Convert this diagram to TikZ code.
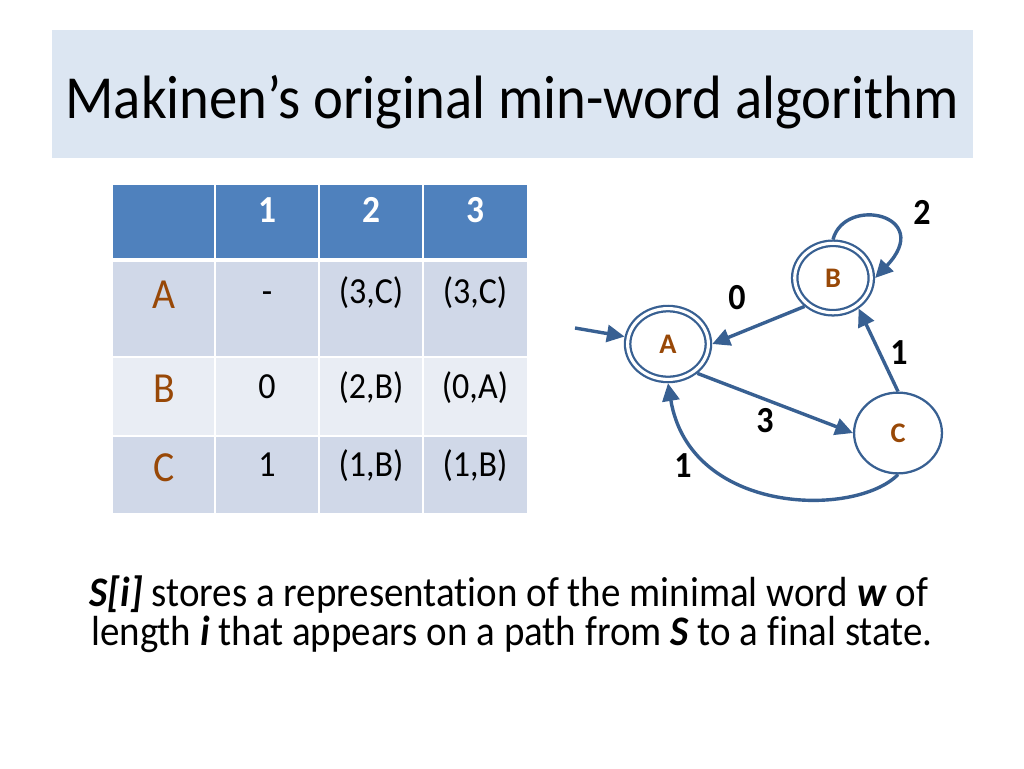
\documentclass[tikz,border=0pt]{standalone}
\usepackage{fontspec}
\setmainfont{Carlito}[Ligatures=NoCommon]
\usetikzlibrary{arrows.meta, shapes.geometric}

\definecolor{titlebg}{RGB}{220,230,242}
\definecolor{headblue}{RGB}{79,129,189}
\definecolor{rowdark}{RGB}{208,216,232}
\definecolor{rowlight}{RGB}{233,237,244}
\definecolor{statebrown}{RGB}{152,72,7}
\definecolor{edgeblue}{RGB}{56,96,146}

\newcommand{\bi}[1]{\textbf{\textit{#1}}}
\newcommand{\tall}[1]{\scalebox{1}[1.08]{#1}}

\begin{document}
\begin{tikzpicture}[x=0.248mm, y=-0.248mm,
  cell/.style={anchor=base, font=\fontsize{24}{28}\selectfont},
  headcell/.style={anchor=base, text=white, font=\fontsize{25}{28}\selectfont\bfseries},
  rowname/.style={anchor=base, text=statebrown, font=\fontsize{28}{32}\selectfont},
  statenode/.style={ellipse, draw=edgeblue, line width=1.6pt, text=statebrown,
    font=\fontsize{20}{22}\selectfont\bfseries, inner sep=0pt},
  acceptnode/.style={statenode, double, double distance=2.2pt, outer sep=2.7pt},
  edge/.style={draw=edgeblue, line width=2.4pt, -{Triangle[length=12.5pt, width=12pt]}},
  elabel/.style={font=\fontsize{24}{26}\selectfont\bfseries}]
  \useasboundingbox (0,0) rectangle (1024,768);

  % title
  \fill[titlebg] (52,30) rectangle (973,158);
  \node[anchor=base, font=\fontsize{40}{44}\selectfont] (title) at (512,118)
        {\tall{Makinen’s original min-word algorithm}};

  % table
  \fill[headblue] (113,185) rectangle (527,260);
  \fill[rowdark]  (113,260) rectangle (527,357);
  \fill[rowlight] (113,357) rectangle (527,436);
  \fill[rowdark]  (113,436) rectangle (527,513);
  \foreach \x in {215,319,423}{\draw[white, line width=2pt] (\x,185)--(\x,513);}
  \foreach \y in {357,436}{\draw[white, line width=2pt] (113,\y)--(527,\y);}
  \draw[white, line width=3pt] (113,260)--(527,260);

  \node[headcell] (h1) at (267,222) {\tall{1}};
  \node[headcell] (h2) at (371,222) {\tall{2}};
  \node[headcell] (h3) at (475,222) {\tall{3}};

  \node[rowname] (rA) at (164,308) {\tall{A}};
  \node[cell] (a1) at (267,303) {\tall{-}};
  \node[cell] (a2) at (371,303) {\tall{(3,C)}};
  \node[cell] (a3) at (475,303) {\tall{(3,C)}};

  \node[rowname] (rB) at (164,402) {\tall{B}};
  \node[cell] (b1) at (267,398) {\tall{0}};
  \node[cell] (b2) at (371,398) {\tall{(2,B)}};
  \node[cell] (b3) at (475,398) {\tall{(0,A)}};

  \node[rowname] (rC) at (164,481) {\tall{C}};
  \node[cell] (c1) at (267,476) {\tall{1}};
  \node[cell] (c2) at (371,476) {\tall{(1,B)}};
  \node[cell] (c3) at (475,476) {\tall{(1,B)}};

  % automaton
  \node[acceptnode, minimum width=57pt, minimum height=50pt] (A) at (668,344) {A};
  \node[acceptnode, minimum width=54pt, minimum height=49pt] (B) at (833,278) {B};
  \node[statenode, minimum width=62pt, minimum height=57pt] (C) at (898,433) {C};
  \coordinate (start) at (575,328);

  \draw[edge] (start) -- (A);
  \draw[edge] (B.225) -- (A.east);
  \draw[edge] (A.-45) -- (C.west);
  \draw[edge] (C.north) -- (B.-50);
  \draw[edge] (C.south) .. controls (855,518) and (690,515) .. (A.south);
  \draw[edge] (B.north) .. controls (845,195) and (935,215) .. (B.east);

  \node[elabel] (l0) at (737,298) {\tall{0}};
  \node[elabel] (l2) at (922,212) {\tall{2}};
  \node[elabel] (l3) at (765,421) {\tall{3}};
  \node[elabel] (lcb) at (899,353) {\tall{1}};
  \node[elabel] (lca) at (683,466) {\tall{1}};

  % caption
  \node[anchor=base, font=\fontsize{27.5}{32}\selectfont] (cap1) at (509,606)
        {\tall{\bi{S[i]} stores a representation of the minimal word \bi{w} of}};
  \node[anchor=base, font=\fontsize{27.5}{32}\selectfont] (cap2) at (512,645)
        {\tall{length \bi{i} that appears on a path from \bi{S} to a final state.}};
\end{tikzpicture}
\end{document}
